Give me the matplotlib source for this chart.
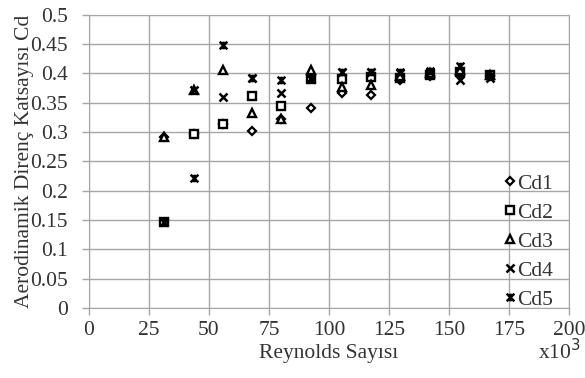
import numpy as np
import matplotlib
matplotlib.use("Agg")
import matplotlib.pyplot as plt
from matplotlib.path import Path

plt.rcParams['font.family'] = ['Liberation Serif', 'DejaVu Serif']

# Reynolds numbers (x10^3)
reynolds = [31.2, 43.8, 56.0, 68.0, 80.1, 92.6, 105.3, 117.4, 129.6, 142.1, 154.6, 167.1]

cd1 = [0.292, 0.297, 0.314, 0.301, 0.323, 0.341, 0.366, 0.363, 0.388, 0.395, 0.398, 0.395]
cd2 = [0.147, 0.297, 0.314, 0.362, 0.344, 0.390, 0.390, 0.394, 0.392, 0.397, 0.402, 0.397]
cd3 = [0.292, 0.372, 0.405, 0.333, 0.323, 0.405, 0.376, 0.380, 0.395, 0.400, 0.405, 0.398]
cd4 = [0.147, 0.372, 0.360, 0.393, 0.366, 0.390, 0.403, 0.403, 0.400, 0.402, 0.389, 0.393]
cd5 = [0.147, 0.222, 0.449, 0.393, 0.388, 0.392, 0.403, 0.403, 0.402, 0.404, 0.413, 0.396]

series_names = ['Cd1', 'Cd2', 'Cd3', 'Cd4', 'Cd5']

# excel style "star" marker: x with a vertical bar
star = Path([(-1, -1), (1, 1), (-1, 1), (1, -1), (0, -1), (0, 1)],
            [Path.MOVETO, Path.LINETO, Path.MOVETO, Path.LINETO, Path.MOVETO, Path.LINETO])

styles = [
    dict(marker='D', ms=4.5, mfc='white', mew=1.6),
    dict(marker='s', ms=6, mfc='white', mew=1.7),
    dict(marker='^', ms=6, mfc='white', mew=1.7),
    dict(marker='x', ms=5.5, mew=1.8),
    dict(marker=star, ms=5.5, mfc='none', mew=1.8),
]

FS = 15.5
TXT = '#333333'

fig = plt.figure(figsize=(5.85, 3.78), dpi=100)
ax = fig.add_axes([0.152, 0.185, 0.821, 0.776])

for name, vals, st in zip(series_names, [cd1, cd2, cd3, cd4, cd5], styles):
    ax.plot(reynolds, vals, linestyle='none', color='black', mec='black', label=name, **st)

ax.set_xlim(0, 200)
ax.set_ylim(0, 0.5)
ax.set_xticks(np.arange(0, 201, 25))
ax.set_yticks(np.arange(0, 0.51, 0.05))
ax.set_yticklabels(['0', '0.05', '0.1', '0.15', '0.2', '0.25', '0.3', '0.35', '0.4', '0.45', '0.5'])

ax.grid(color='#a6a6a6', linewidth=1.0)
ax.set_axisbelow(True)
for sp in ax.spines.values():
    sp.set_color('#a6a6a6')
ax.tick_params(colors='#a6a6a6', labelcolor=TXT, labelsize=FS, length=5, width=1)
ax.tick_params(axis='x', pad=4)
ax.tick_params(axis='y', pad=10)

ax.set_xlabel('Reynolds Sayısı', fontsize=FS, labelpad=3, color=TXT)
ax.set_ylabel('Aerodinamik Direnç Katsayısı Cd', fontsize=FS, labelpad=-2.5, color=TXT)
fig.text(0.992, 0.07, 'x10$^3$', fontsize=FS, ha='right', va='center', color=TXT)

ax.legend(frameon=False, loc='lower left', bbox_to_anchor=(0.862, 0.18),
          bbox_transform=fig.transFigure, fontsize=FS, handlelength=0.5,
          handletextpad=0.08, labelspacing=0.42, borderpad=0, borderaxespad=0,
          labelcolor=TXT)

fig.savefig('out.png', dpi=100)
